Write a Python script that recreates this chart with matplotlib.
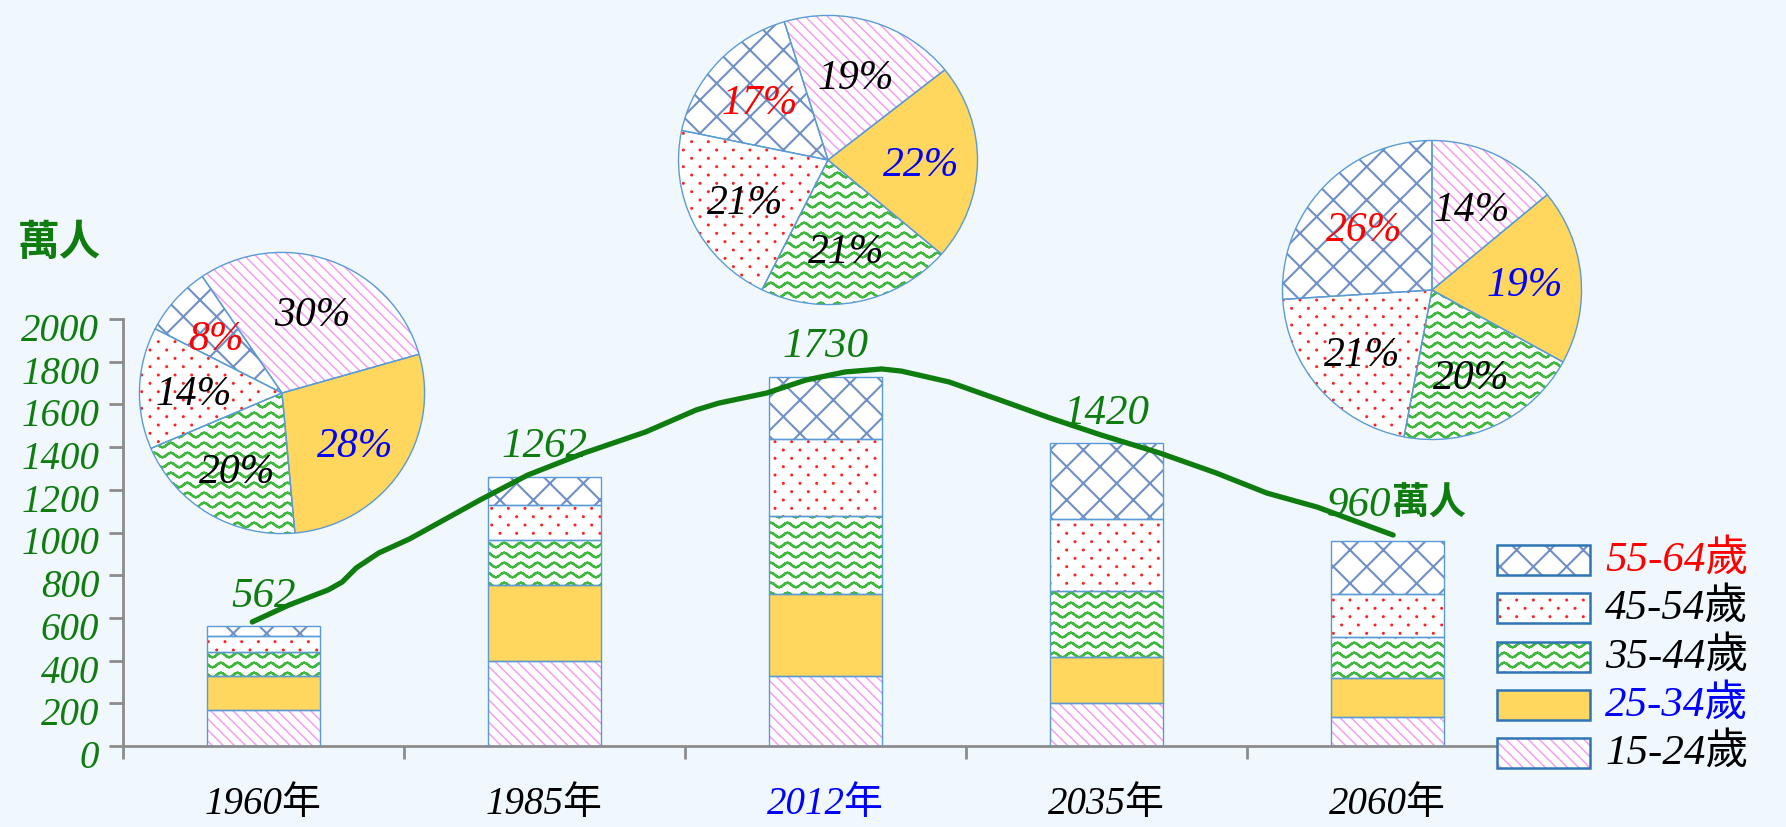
import numpy as np
import matplotlib
matplotlib.use('Agg')
import matplotlib.pyplot as plt
import matplotlib.hatch as mhatch
import matplotlib.transforms as mtrans
from matplotlib.path import Path
from matplotlib.patches import Rectangle

# ---- data (萬人) ----
years = ['1960年', '1985年', '2012年', '2035年', '2060年']
groups = ['15-24歲', '25-34歲', '35-44歲', '45-54歲', '55-64歲']
totals = [562, 1262, 1730, 1420, 960]

age_15_24 = [169, 398, 328, 203, 138]
age_25_34 = [157, 357, 382, 213, 182]
age_35_44 = [112, 208, 365, 309, 192]
age_45_54 = [79, 167, 365, 336, 200]
age_55_64 = [45, 132, 290, 359, 248]

pie_1960 = [30, 28, 20, 14, 8]
pie_2012 = [19, 22, 21, 21, 17]
pie_2060 = [14, 19, 20, 21, 26]

# hand drawn trend line
trend_x = [0.46, 0.59, 0.73, 0.78, 0.83, 0.91, 1.02, 1.27, 1.44, 1.64, 1.86,
           2.04, 2.12, 2.29, 2.43, 2.57, 2.70, 2.77, 2.94, 3.12, 3.30, 3.48,
           3.69, 3.89, 4.07, 4.25, 4.52]
trend_y = [581, 660, 731, 768, 834, 904, 970, 1152, 1269, 1372, 1471,
           1574, 1606, 1653, 1714, 1752, 1766, 1756, 1705, 1621, 1536, 1457,
           1372, 1279, 1185, 1119, 988]

y_ticks = list(range(0, 2001, 200))


# wavy hatch, takes the place of 'O'
class WaveHatch(mhatch.HatchPatternBase):
    def __init__(self, hatch, density):
        self.num_rows = hatch.count('O') * 5
        self.npts = 49
        self.num_vertices = self.num_rows * (self.npts - 1) * 2

    def set_vertices_and_codes(self, vertices, codes):
        t = np.linspace(0, 1, self.npts)
        k = 0
        for i in range(self.num_rows):
            yy = (i + 0.5) / self.num_rows + 0.022 * np.sin(2 * np.pi * 6 * t)
            for j in range(self.npts - 1):
                vertices[k] = (t[j], yy[j])
                vertices[k + 1] = (t[j + 1], yy[j + 1])
                codes[k] = Path.MOVETO
                codes[k + 1] = Path.LINETO
                k += 2


# sparse staggered dots, takes the place of 'o'
class DotHatch(mhatch.HatchPatternBase):
    def __init__(self, hatch, density):
        n = hatch.count('o')
        self.num_vertices = 0
        if n == 0:
            return
        self.num_rows = 12 * n
        self.num_cols = 6 * n
        circle = Path.unit_circle()
        self.shape_vertices = circle.vertices * 0.008
        self.shape_codes = circle.codes
        shapes = sum(self.num_cols + 1 if r % 2 == 0 else self.num_cols
                     for r in range(self.num_rows + 1))
        self.num_vertices = shapes * len(self.shape_vertices)

    def set_vertices_and_codes(self, vertices, codes):
        nv = len(self.shape_vertices)
        cur = 0
        for row in range(self.num_rows + 1):
            y = row / self.num_rows
            if row % 2 == 0:
                cols = np.linspace(0, 1, self.num_cols + 1)
            else:
                cols = np.linspace(0.5 / self.num_cols, 1 - 0.5 / self.num_cols, self.num_cols)
            for x in cols:
                vertices[cur:cur + nv] = self.shape_vertices + (x, y)
                codes[cur:cur + nv] = self.shape_codes
                cur += nv


mhatch._hatch_types[mhatch._hatch_types.index(mhatch.LargeCircles)] = WaveHatch
mhatch._hatch_types[mhatch._hatch_types.index(mhatch.SmallCircles)] = DotHatch

plt.rcParams['hatch.linewidth'] = 1.1

GREEN = '#0e7c0e'
BG = '#f0f8fe'
EDGE = '#5b9bd5'
num_font = ['Liberation Serif', 'Noto Sans CJK TC']
cjk_font = ['Noto Sans CJK TC', 'DejaVu Sans']

faces = ['white', '#ffd75e', 'white', 'white', 'white']
hatches = ['\\\\\\', None, 'OO', 'o', 'x']
hcolors = ['#f59ef0', '#ffd75e', '#40b840', '#ff2020', '#6f8fc6']
hwidths = [1.1, 1.0, 1.7, 1.0, 1.5]
label_colors = ['black', 'blue', 'black', 'black', 'red']

W, H = 1786, 827
fig = plt.figure(figsize=(W / 100, H / 100), dpi=100, facecolor=BG)


def px_rect(x0, y0, w, h):
    return [x0 / W, 1 - (y0 + h) / H, w / W, h / H]


def style_hatch(p, k):
    p.set_hatch(hatches[k])
    p.set_edgecolor(hcolors[k])
    p.set_linewidth(0)
    if hasattr(p, 'set_hatch_linewidth'):
        p.set_hatch_linewidth(hwidths[k])


ax = fig.add_axes(px_rect(123, 319, 1405, 427))
ax.set_facecolor('none')

xpos = np.arange(5) + 0.5
series = [age_15_24, age_25_34, age_35_44, age_45_54, age_55_64]
bottom = np.zeros(5)
for k, vals in enumerate(series):
    bars = ax.bar(xpos, vals, 0.4, bottom=bottom, color=faces[k], zorder=2)
    for b in bars:
        style_hatch(b, k)
    ax.bar(xpos, vals, 0.4, bottom=bottom, fill=False,
           edgecolor=EDGE, linewidth=1, zorder=3)
    bottom += np.array(vals)

ax.plot(trend_x, trend_y, color=GREEN, lw=3.8, solid_capstyle='round',
        solid_joinstyle='round', zorder=4)

for i, t in enumerate(totals):
    if i == 4:
        ax.annotate(str(t), (xpos[i], t), xytext=(4, 40), textcoords='offset pixels',
                    ha='right', va='center_baseline', color=GREEN, fontsize=31,
                    family=num_font, style='italic', zorder=5)
        ax.annotate('萬人', (xpos[i], t), xytext=(4, 42), textcoords='offset pixels',
                    ha='left', va='center_baseline', color=GREEN, fontsize=27,
                    family=cjk_font, weight='bold', zorder=5)
    else:
        ax.annotate(str(t), (xpos[i], t), xytext=(0, 34), textcoords='offset pixels',
                    ha='center', va='center_baseline', color=GREEN, fontsize=31,
                    family=num_font, style='italic', zorder=5)

ax.set_xlim(0, 5)
ax.set_ylim(0, 2000)
for s in ['top', 'right']:
    ax.spines[s].set_visible(False)
for s in ['left', 'bottom']:
    ax.spines[s].set_color('#8c8c8c')
    ax.spines[s].set_linewidth(2)

ax.set_xticks(range(6))
ax.set_xticklabels([])
ax.set_xticks(xpos, minor=True)
ax.set_xticklabels(years, minor=True, fontsize=28, family=num_font, style='italic')
ax.tick_params(axis='x', which='major', length=9, width=2, color='#8c8c8c', direction='out')
ax.tick_params(axis='x', which='minor', length=0, pad=29)
ax.get_xticklabels(minor=True)[2].set_color('blue')

ax.set_yticks(y_ticks)
ax.set_yticklabels([str(v) for v in y_ticks], fontsize=28, family=num_font,
                   style='italic', color=GREEN)
ax.tick_params(axis='y', length=10, width=2, color='#8c8c8c', pad=7)
shift = mtrans.ScaledTranslation(0, -8 / 100, fig.dpi_scale_trans)
for lab in ax.get_yticklabels():
    lab.set_transform(lab.get_transform() + shift)

fig.text(59 / W, 1 - 243 / H, '萬人', color=GREEN, fontsize=30, family=cjk_font,
         weight='bold', ha='center', va='center')


def draw_pie(cx, cy, rx, ry, shares, start):
    pax = fig.add_axes(px_rect(cx - rx, cy - ry, 2 * rx, 2 * ry))
    wedges, _, autotexts = pax.pie(
        shares, colors=faces, startangle=start, counterclock=False,
        wedgeprops=dict(linewidth=0), autopct=lambda p: f'{p:.0f}%',
        pctdistance=0.62,
        textprops=dict(fontsize=30, family=num_font, style='italic',
                       va='center_baseline'))
    for k, w in enumerate(wedges):
        style_hatch(w, k)
    for txt, c in zip(autotexts, label_colors):
        txt.set_color(c)
        txt.set_zorder(5)
    pax.pie(shares, colors=['none'] * 5, startangle=start, counterclock=False,
            wedgeprops=dict(edgecolor=EDGE, linewidth=1))
    pax.set_aspect('auto')
    pax.set_xlim(-1.01, 1.01)
    pax.set_ylim(-1.01, 1.01)
    pax.axis('off')


draw_pie(282, 393, 144, 142, pie_1960, 124)
draw_pie(828, 160, 151, 146, pie_2012, 107)
draw_pie(1432, 290, 151, 151, pie_2060, 90)

# legend, top to bottom
leg_y = [560, 608, 657, 705, 753]
for k, yc in zip(range(4, -1, -1), leg_y):
    box = Rectangle((1497 / W, 1 - (yc + 15) / H), 93 / W, 30 / H,
                    transform=fig.transFigure, facecolor=faces[k], zorder=3)
    style_hatch(box, k)
    fig.patches.append(box)
    fig.patches.append(Rectangle((1497 / W, 1 - (yc + 15) / H), 93 / W, 30 / H,
                                 transform=fig.transFigure, fill=False,
                                 edgecolor='#2e75b6', linewidth=1.8, zorder=4))
    fig.text(1605 / W, 1 - yc / H, groups[k], color=label_colors[k],
             fontsize=31, family=num_font, style='italic', ha='left', va='center')

fig.savefig('out.png', dpi=100, facecolor=BG)
